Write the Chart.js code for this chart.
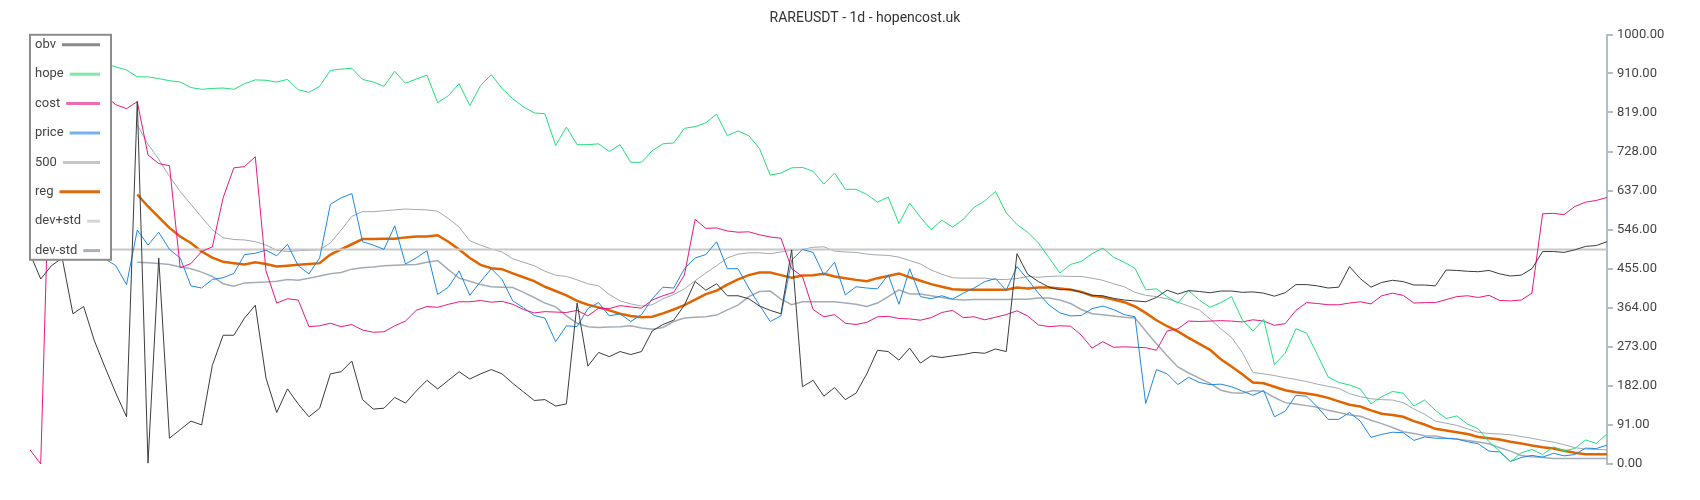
<!DOCTYPE html>
<html>
<head>
<meta charset="utf-8">
<title>RAREUSDT - 1d - hopencost.uk</title>
<script src="https://cdn.jsdelivr.net/npm/chart.js@4.4.0/dist/chart.umd.min.js"></script>
<style>
  html, body { margin: 0; padding: 0; background: #fff; }
  #wrap { width: 1700px; height: 500px; }
</style>
</head>
<body>
<div id="wrap"><canvas id="myChart" width="1700" height="500"></canvas></div>
<script>
// one label per point (every second day of the original series)
var days = [];
for (var d = 0; d < 148; d++) days.push(d);

var obv = [490,431,462,480,350,367,287,225,165,110,
  845,2,480,60,80,100,91,230,300,300,
  340,370,200,120,175,140,110,130,210,215,
  240,150,128,130,155,142,170,195,175,195,
  215,198,210,220,210,188,168,148,150,135,
  140,375,228,260,250,262,255,262,310,325,
  335,370,425,405,420,392,392,385,368,358,
  350,499,180,195,158,178,150,165,210,265,
  262,242,270,235,252,248,252,255,260,258,
  268,262,490,442,425,412,406,407,400,393,
  392,386,382,380,378,388,405,396,404,402,
  399,403,403,400,401,398,391,399,418,418,
  415,410,412,460,432,412,423,428,425,417,
  417,415,452,451,449,448,451,443,438,440,
  455,495,495,493,499,507,509,518];

var hope = [950,948,945,943,941,940,938,934,925,918,
  902,902,898,893,890,877,873,875,876,873,
  886,895,894,890,896,872,866,880,917,920,
  922,896,890,880,915,887,897,906,842,858,
  886,835,882,907,875,851,832,818,816,742,
  785,744,744,746,728,744,703,703,730,746,
  748,782,786,795,815,765,776,765,735,673,
  678,690,691,682,652,678,640,640,628,610,
  622,560,608,575,546,568,552,570,598,613,
  635,585,558,540,515,480,445,465,472,490,
  503,482,470,456,406,408,390,375,404,382,
  365,376,390,336,310,337,232,258,315,305,
  255,203,190,184,175,140,157,169,165,135,
  149,125,106,112,93,82,52,30,5,26,
  34,22,40,31,36,56,48,70];

var cost = [33,0,880,875,870,866,862,858,837,828,
  844,720,700,695,457,467,495,506,620,690,
  693,716,450,375,385,382,320,322,328,320,
  325,312,307,308,322,333,358,367,365,372,
  378,378,381,377,379,372,360,352,355,354,
  353,358,345,363,362,369,366,363,382,392,
  400,440,570,549,550,543,540,541,534,529,
  526,455,437,360,343,348,328,325,330,343,
  344,339,338,335,341,353,358,341,343,336,
  342,348,357,345,324,320,322,321,300,270,
  285,272,273,272,271,265,310,315,333,332,
  333,334,333,331,336,333,323,327,358,376,
  374,371,371,375,378,373,392,398,393,375,
  376,376,383,390,392,388,393,381,380,382,
  398,583,584,581,600,610,614,621];

var price = [560,540,530,520,510,500,490,478,462,418,
  545,510,540,500,480,415,410,430,434,444,
  488,491,498,485,512,462,443,480,605,620,
  630,518,510,500,555,466,480,497,395,412,
  450,393,425,455,430,380,364,346,340,285,
  322,320,362,376,345,350,332,348,385,412,
  410,455,480,488,518,455,455,410,370,332,
  345,475,500,493,440,470,394,413,410,408,
  441,372,455,390,385,392,384,398,410,425,
  432,405,460,430,398,370,352,345,346,362,
  368,360,348,343,141,220,210,185,202,190,
  185,186,180,170,160,171,110,123,160,158,
  133,104,104,120,100,62,69,74,73,55,
  63,60,60,58,52,47,30,28,6,15,
  20,16,25,19,22,37,36,44];

// flat reference level at 500
var line500 = new Array(days.length).fill(500);

var reg = [null,null,null,null,null,null,null,null,null,null,
  628,600,575,550,530,515,495,481,471,468,
  465,470,466,460,462,464,466,468,488,500,
  512,524,524,525,525,528,530,530,533,518,
  500,480,464,456,454,444,435,426,413,403,
  393,380,371,365,358,350,345,342,343,351,
  360,370,383,396,404,418,430,440,446,446,
  440,434,439,440,443,437,433,429,426,433,
  438,444,435,427,419,413,407,406,406,406,
  406,406,411,409,411,411,409,406,401,392,
  389,383,377,367,352,335,321,309,294,280,
  266,244,227,209,190,188,180,172,167,164,
  160,154,146,138,134,125,117,114,110,100,
  92,82,78,74,70,63,60,57,52,48,
  43,39,36,31,26,23,23,23];

var devPlus = [null,null,null,null,null,null,null,null,null,null,
  790,745,710,670,635,605,575,546,527,523,
  522,518,510,498,495,497,498,499,515,545,
  577,588,588,590,592,594,593,592,589,572,
  552,520,510,501,494,478,470,462,449,440,
  437,429,420,415,395,380,373,368,371,385,
  395,408,427,445,462,480,489,492,492,490,
  494,498,500,505,506,496,494,493,489,487,
  486,482,474,466,452,442,434,433,433,433,
  430,430,432,437,435,437,438,437,437,433,
  428,420,413,400,393,390,385,377,368,359,
  338,315,295,260,213,210,206,201,197,192,
  186,181,176,164,157,152,150,149,143,128,
  116,100,95,90,82,74,71,70,68,64,
  60,55,51,45,38,35,34,33];

var devMinus = [null,null,null,null,null,null,null,null,null,null,
  470,469,467,465,459,455,447,437,420,414,
  422,423,424,426,430,428,433,438,443,446,
  454,457,459,462,463,464,465,470,474,453,
  433,426,418,413,412,411,400,388,375,366,
  345,328,320,318,319,320,322,317,314,318,
  332,340,342,343,347,359,370,390,402,403,
  384,371,378,378,378,378,375,372,367,375,
  390,406,396,396,392,388,384,382,383,383,
  383,383,384,384,387,387,382,374,360,350,
  348,345,342,340,310,280,252,226,212,200,
  188,172,166,165,171,169,155,143,140,136,
  132,125,120,114,111,102,94,85,75,71,
  66,65,60,58,55,51,47,38,30,20,
  17,15,13,13,13,13,13,13];

var tickValues = [0, 91, 182, 273, 364, 455, 546, 637, 728, 819, 910, 1000];

var legendItems = [
  { label: 'obv', color: '#8a8a8a' },
  { label: 'hope', color: '#7ee8a6' },
  { label: 'cost', color: '#ec6cb0' },
  { label: 'price', color: '#72b2ee' },
  { label: '500', color: '#c6c6c6' },
  { label: 'reg', color: '#d96a0e' },
  { label: 'dev+std', color: '#d2d7dc' },
  { label: 'dev-std', color: '#a9b1b8' }
];

Chart.defaults.font.family = 'Roboto';

// legend box drawn over the plot, top left
var boxLegend = {
  id: 'boxLegend',
  afterDraw: function(chart) {
    var ctx = chart.ctx;
    var left = chart.chartArea.left;
    var top = chart.chartArea.top;
    ctx.save();
    ctx.fillStyle = '#ffffff';
    ctx.fillRect(left, top, 81, 225);
    ctx.strokeStyle = '#8c8c8c';
    ctx.lineWidth = 2;
    ctx.strokeRect(left, top, 81, 225);
    ctx.font = '13px Roboto';
    ctx.textBaseline = 'middle';
    legendItems.forEach(function(item, i) {
      var y = top + 10 + i * 29.4;
      ctx.fillStyle = '#444';
      ctx.fillText(item.label, left + 5, y);
      var w = ctx.measureText(item.label).width;
      ctx.strokeStyle = item.color;
      ctx.lineWidth = 3;
      ctx.beginPath();
      ctx.moveTo(left + 5 + w + 6, y);
      ctx.lineTo(left + 70, y);
      ctx.stroke();
    });
    ctx.restore();
  }
};

function serie(label, data, color, width) {
  return {
    label: label,
    data: data,
    borderColor: color,
    borderWidth: width,
    pointRadius: 0,
    fill: false,
    tension: 0,
    spanGaps: false
  };
}

var ctx = document.getElementById('myChart').getContext('2d');
var myChart = new Chart(ctx, {
  type: 'line',
  data: {
    labels: days,
    datasets: [
      serie('obv', obv, '#3c3c3c', 1),
      serie('hope', hope, '#1fe07a', 1),
      serie('cost', cost, '#e8187e', 1),
      serie('price', price, '#1e88e5', 1),
      serie('500', line500, '#c8c8c8', 2),
      serie('reg', reg, '#e06400', 2.5),
      serie('dev+std', devPlus, '#a0a8b0', 1),
      serie('dev-std', devMinus, '#a3acb5', 1.5)
    ]
  },
  options: {
    responsive: false,
    animation: false,
    layout: { padding: { left: 30, right: 0, top: 0, bottom: 36 } },
    plugins: {
      legend: { display: false },
      tooltip: { enabled: false },
      title: {
        display: true,
        text: 'RAREUSDT - 1d - hopencost.uk',
        color: '#333',
        font: { size: 14, weight: 'normal' },
        padding: { top: 10, bottom: 8 }
      }
    },
    scales: {
      x: { display: false, offset: false },
      y: {
        position: 'right',
        min: 0,
        max: 1000,
        afterBuildTicks: function(scale) {
          scale.ticks = tickValues.map(function(v) { return { value: v }; });
        },
        afterFit: function(scale) { scale.width = 93; },
        ticks: {
          color: '#444',
          font: { size: 13 },
          padding: 4,
          callback: function(v) { return Number(v).toFixed(2); }
        },
        grid: { drawOnChartArea: false, tickLength: 6, color: '#b4bcc4', lineWidth: 2 },
        border: { color: '#b4bcc4', width: 2 }
      }
    }
  },
  plugins: [boxLegend]
});
</script>
</body>
</html>
